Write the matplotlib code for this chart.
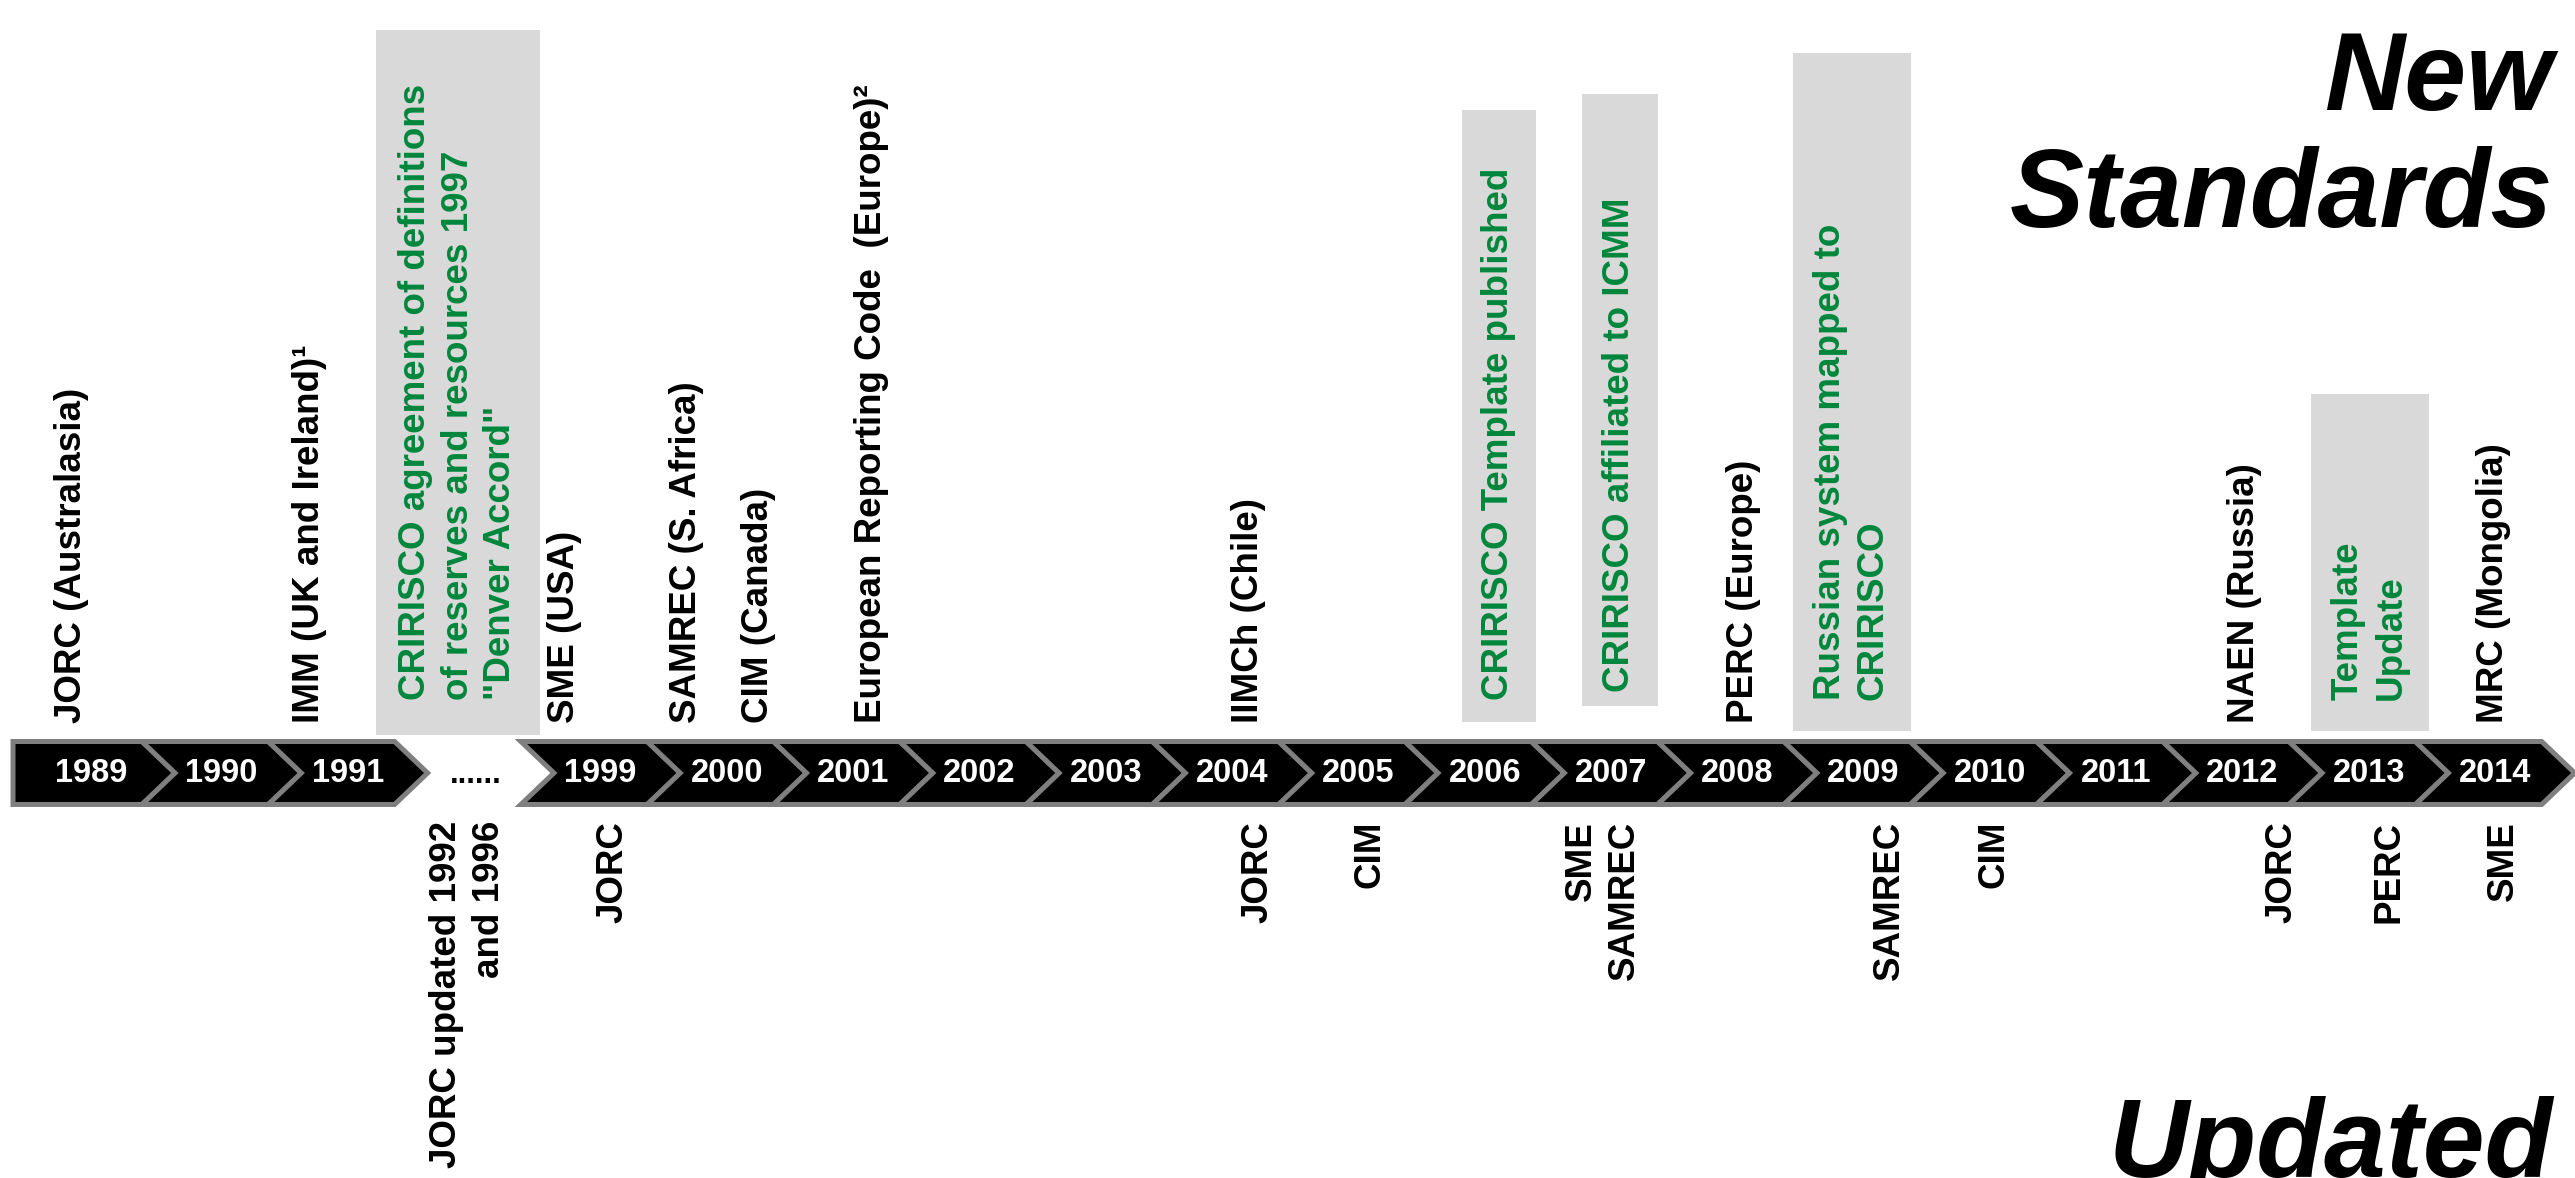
import matplotlib.pyplot as plt
from matplotlib.patches import Polygon, Rectangle

# timeline slots (the blank one is the 1992-1998 gap)
years = ['1989', '1990', '1991', '', '1999', '2000', '2001', '2002', '2003',
         '2004', '2005', '2006', '2007', '2008', '2009', '2010', '2011',
         '2012', '2013', '2014']
gap_text = '......'

# new standards (above the arrow)
new_labels = ['JORC (Australasia)',
              'IMM (UK and Ireland)\u00b9',
              'CRIRISCO agreement of definitions\nof reserves and resources 1997\n"Denver Accord"',
              'SME (USA)',
              'SAMREC (S. Africa)',
              'CIM (Canada)',
              'European Reporting Code  (Europe)\u00b2',
              'IIMCh (Chile)',
              'CRIRISCO Template published',
              'CRIRISCO affiliated to ICMM',
              'PERC (Europe)',
              'Russian system mapped to\nCRIRISCO',
              'NAEN (Russia)',
              'Template\nUpdate',
              'MRC (Mongolia)']
new_years = ['1989', '1991', '', '1999', '2000', '2000', '2001', '2004',
             '2006', '2007', '2008', '2009', '2012', '2013', '2014']
new_crirsco = [False, False, True, False, False, False, False, False,
               True, True, False, True, False, True, False]

# updated standards (below the arrow)
upd_labels = ['JORC updated 1992\nand 1996', 'JORC', 'JORC', 'CIM', 'SME\nSAMREC',
              'SAMREC', 'CIM', 'JORC', 'PERC', 'SME']
upd_years = ['', '1999', '2004', '2005', '2007', '2009', '2010', '2012', '2013', '2014']

# layout (pixels)
W, H = 2575, 1178
X0, STEP, TIP = 15.7, 126.3, 33
TOP, BOT = 741.5, 804.5
MID = (TOP + BOT) / 2
new_nudge = [-24, -38, -16, -36, -40, 32, 18, 16, 14, 9, 6, -12, 2, 1, -2]
new_base = [723, 723, 700, 723, 723, 723, 723, 723, 700, 692, 723, 700, 723, 700, 723]
box_half = [None, None, 82, None, None, None, None, None, 37, 38, None, 59, None, 59, None]
box_top = [None, None, 30, None, None, None, None, None, 110, 94, None, 53, None, 394, None]
box_bot = [None, None, 735, None, None, None, None, None, 722, 706, None, 731, None, 731, None]
upd_nudge = [-6, 12, 26, 12, -8, 26, 4, 40, 20, 8]

GREEN = '#00873c'
GREY_BOX = '#d9d9d9'
EDGE = '#7f7f7f'
FONT = ['Liberation Sans', 'DejaVu Sans']


def slot_left(i):
    return X0 + STEP * i


def slot_center(i):
    return (slot_left(i) + slot_left(i + 1) + TIP) / 2


fig = plt.figure(figsize=(W / 100, H / 100), dpi=100)
ax = fig.add_axes([0, 0, 1, 1])
ax.set_xlim(0, W)
ax.set_ylim(H, 0)
ax.axis('off')

# chevrons
for i, y in enumerate(years):
    if y == '':
        ax.text(slot_center(i) + 2, MID + 2, gap_text, ha='center', va='center',
                fontsize=22, fontweight='bold', family=FONT, color='black')
        continue
    L = slot_left(i) if i > 0 else 13
    R = slot_left(i + 1)
    pts = [(L, TOP), (R, TOP), (R + TIP, MID), (R, BOT), (L, BOT)]
    if i > 0:
        pts.append((L + TIP, MID))
    ax.add_patch(Polygon(pts, closed=True, facecolor='black', edgecolor=EDGE,
                         linewidth=3.6, joinstyle='miter', zorder=2))
    ax.text(slot_center(i) - (4 if i == 0 else 0), MID + 1, y, ha='center',
            va='center', fontsize=23.5, fontweight='bold', family=FONT,
            color='white', zorder=3)

# new standards
for k, lab in enumerate(new_labels):
    x = slot_center(years.index(new_years[k])) + new_nudge[k]
    if box_half[k]:
        ax.add_patch(Rectangle((x - box_half[k], box_top[k]), 2 * box_half[k],
                               box_bot[k] - box_top[k], facecolor=GREY_BOX,
                               edgecolor='none', zorder=1))
    ax.text(x, new_base[k], lab, rotation=90, ha='center', va='bottom',
            multialignment='left', fontsize=26.5, fontweight='bold', family=FONT,
            color=GREEN if new_crirsco[k] else 'black', linespacing=1.28, zorder=3)

# updated standards
for k, lab in enumerate(upd_labels):
    x = slot_center(years.index(upd_years[k])) + upd_nudge[k]
    ax.text(x, 821, lab, rotation=90, ha='center', va='top', multialignment='right',
            fontsize=26.5, fontweight='bold', family=FONT, color='black',
            linespacing=1.28, zorder=3)

# headings
ax.text(2553, 110, 'New', ha='right', va='baseline', fontsize=80,
        fontweight='bold', fontstyle='italic', family=FONT)
ax.text(2553, 227, 'Standards', ha='right', va='baseline', fontsize=80,
        fontweight='bold', fontstyle='italic', family=FONT)
ax.text(2553, 1177, 'Updated', ha='right', va='baseline', fontsize=80,
        fontweight='bold', fontstyle='italic', family=FONT)

fig.savefig('out.png', dpi=100, facecolor='white')
